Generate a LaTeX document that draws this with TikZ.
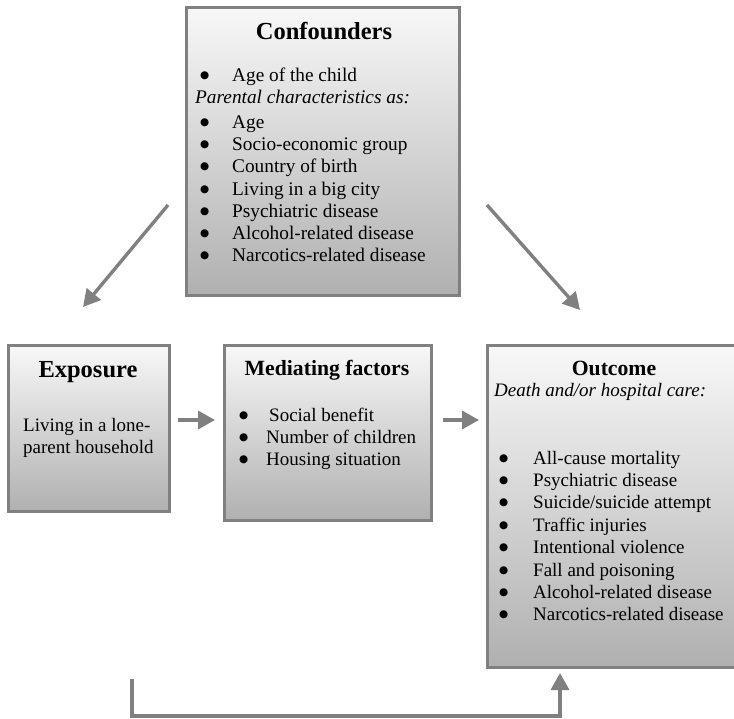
\documentclass[tikz,border=0pt]{standalone}
\usepackage{fontspec}
\setmainfont{Liberation Serif}
\newfontfamily\symfont{DejaVu Sans}
\usetikzlibrary{arrows.meta}
\definecolor{bordergray}{HTML}{808080}
\definecolor{arrowgray}{HTML}{808080}
\definecolor{shadetop}{HTML}{F8F8F8}
\definecolor{shadebot}{HTML}{B0B0B0}
\newcommand{\bigbul}{\raisebox{3pt}{\symfont\fontsize{10.5}{10.5}\selectfont ●}}
\newcommand{\bul}[2][32pt]{\hspace*{5pt}\makebox[#1][l]{\bigbul}#2}
\tikzset{
  box/.style={draw=bordergray, line width=3pt, shade, top color=shadetop, bottom color=shadebot, inner sep=0pt, rectangle},
  ttl/.style={inner sep=0pt, anchor=base, font=\fontsize{24.5}{28}\selectfont\bfseries},
  ttlsmall/.style={inner sep=0pt, anchor=base, font=\fontsize{21.7}{26}\selectfont\bfseries},
  txt/.style={inner sep=0pt, anchor=base west, font=\fontsize{19.3}{22.2}\selectfont},
  arr/.style={draw=arrowgray, line width=3.4pt, -{Triangle[width=18pt,length=17pt]}}
}
\begin{document}
\begin{tikzpicture}[x=1pt, y=-1pt]
\useasboundingbox (0,0) rectangle (734,718);
% boxes
\node[box, minimum width=273.5pt, minimum height=287.5pt] (conf) at (322.75,151.25) {};
\node[box, minimum width=161.5pt, minimum height=166pt] (expo) at (88.75,428.5) {};
\node[box, minimum width=207.5pt, minimum height=175.5pt] (medi) at (328,433) {};
\node[box, minimum width=249pt, minimum height=322pt] (outc) at (611.5,506) {};
% titles
\node[ttl] (confT) at (324,39) {Confounders};
\node[ttl] (expoT) at (88,377) {Exposure};
\node[ttlsmall] (mediT) at (327,375) {Mediating factors};
\node[ttlsmall] (outcT) at (614,375) {Outcome};
% texts
\node[txt] (confL) at (195,81) {\parbox[t]{262pt}{\raggedright
\bul{Age of the child}\\
\textit{Parental characteristics as:}\\[3pt]
\bul{Age}\\
\bul{Socio-economic group}\\
\bul{Country of birth}\\
\bul{Living in a big city}\\
\bul{Psychiatric disease}\\
\bul{Alcohol-related disease}\\
\bul{Narcotics-related disease}}};
\node[txt, font=\fontsize{19}{22}\selectfont] (expoL) at (23,431) {\parbox[t]{145pt}{\raggedright
Living in a lone-\\
parent household}};
\node[txt, font=\fontsize{19}{22}\selectfont] (mediL) at (234,421) {\parbox[t]{195pt}{\raggedright
\bul[30pt]{Social benefit}\\
\bul[27pt]{Number of children}\\
\bul[27pt]{Housing situation}}};
\node[txt, font=\fontsize{19}{22.4}\selectfont] (outcH) at (494,396) {\textit{Death and/or hospital care:}};
\node[txt, font=\fontsize{19}{22.4}\selectfont] (outcL) at (494,464) {\parbox[t]{235pt}{\raggedright
\bul[34pt]{All-cause mortality}\\
\bul[34pt]{Psychiatric disease}\\
\bul[34pt]{Suicide/suicide attempt}\\
\bul[34pt]{Traffic injuries}\\
\bul[34pt]{Intentional violence}\\
\bul[34pt]{Fall and poisoning}\\
\bul[34pt]{Alcohol-related disease}\\
\bul[34pt]{Narcotics-related disease}}};
% connector ends
\coordinate (a1) at (168,205);
\coordinate (a2) at (83,307);
\coordinate (b1) at (487,205);
\coordinate (b2) at (580,310);
\coordinate (c1) at (178,420);
\coordinate (c2) at (215,420);
\coordinate (d1) at (443,420);
\coordinate (d2) at (479,420);
\coordinate (e1) at (132,679);
\coordinate (e2) at (560,716);
\coordinate (e3) at (560,673);
% arrows
\draw[arr] (a1) -- (a2);
\draw[arr] (b1) -- (b2);
\draw[arr] (c1) -- (c2);
\draw[arr] (d1) -- (d2);
\draw[arr] (e1) |- (e2) -- (e3);
\end{tikzpicture}
\end{document}
